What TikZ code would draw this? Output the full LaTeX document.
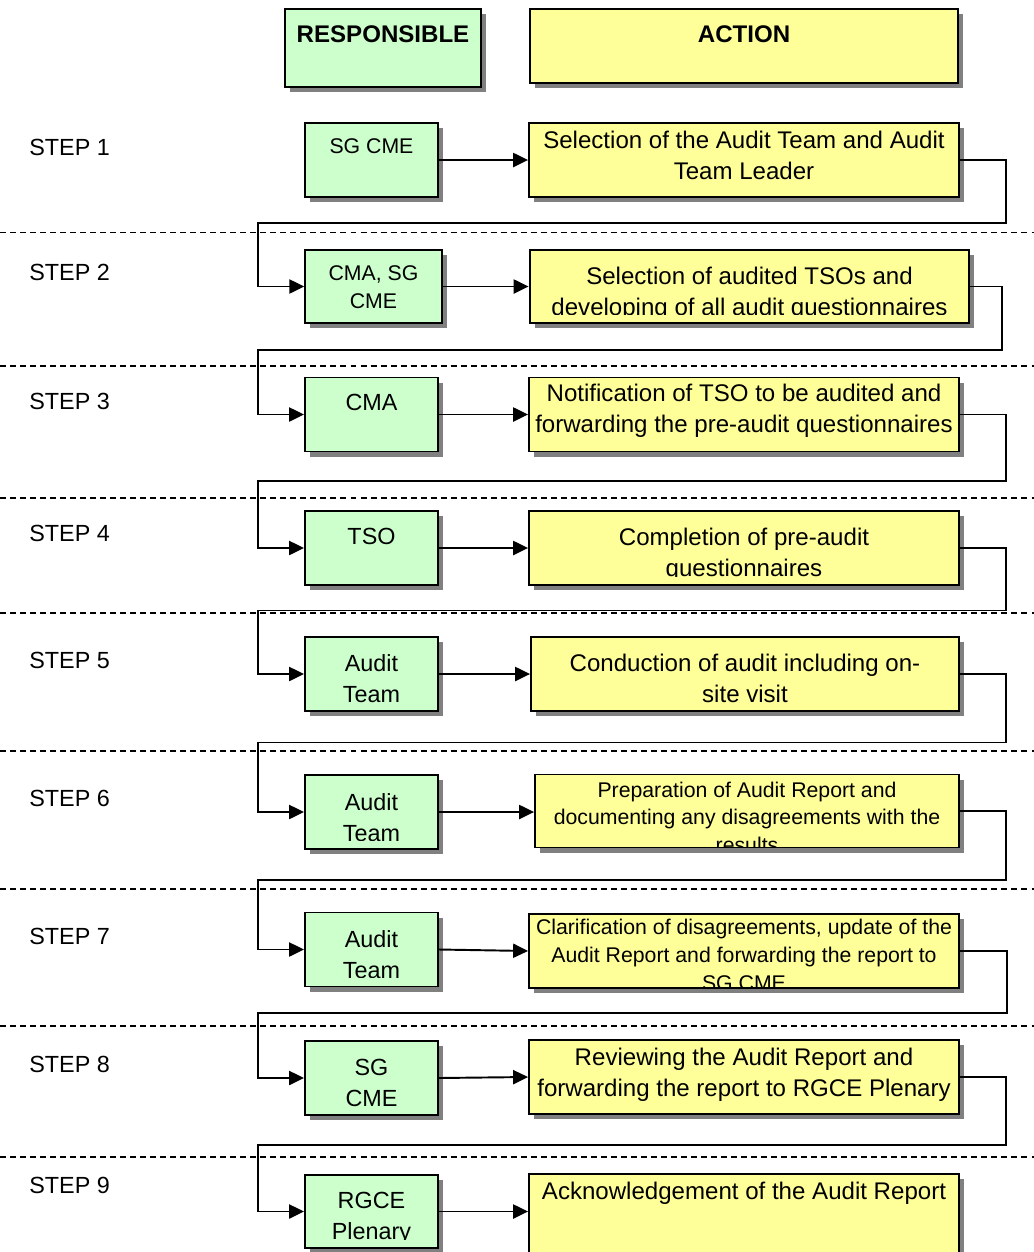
\documentclass[tikz,border=0pt]{standalone}
\usepackage{fontspec}
\setmainfont{Liberation Sans}
\usetikzlibrary{arrows.meta,shadows}
\definecolor{respgreen}{HTML}{CCFFCC}
\definecolor{actyellow}{HTML}{FFFF99}
\newcommand{\boxfont}{\fontsize{13.3}{17.6}\selectfont}
\newcommand{\actfont}{\fontsize{13.7}{17.6}\selectfont}
\newcommand{\tightfont}{\fontsize{12.1}{15.9}\selectfont}

\begin{document}
\begin{tikzpicture}[x=0.02cm, y=-0.02cm, font=\boxfont,
  box/.style={draw, line width=1.1pt, inner sep=0pt,
    drop shadow={shadow xshift=0.1cm, shadow yshift=-0.1cm, fill=black!50, opacity=1}},
  resp/.style={box, fill=respgreen, minimum width=2.66cm},
  act/.style={box, fill=actyellow, minimum width=8.6cm},
  boxtext/.style={anchor=north, align=center, inner sep=0pt, draw=none, fill=none,
    minimum width=0pt, minimum height=0pt},
  says/.style 2 args={path picture={
      \clip ([yshift=5pt]path picture bounding box.south west) rectangle (path picture bounding box.north east);
      \node[boxtext, font=\boxfont] at ([yshift=-#1]path picture bounding box.north) {#2};}},
  saysact/.style 2 args={path picture={
      \clip ([yshift=5pt]path picture bounding box.south west) rectangle (path picture bounding box.north east);
      \node[boxtext, font=\actfont] at ([yshift=-#1]path picture bounding box.north) {#2};}},
  sayssmall/.style 2 args={path picture={
      \clip ([yshift=0.8pt]path picture bounding box.south west) rectangle (path picture bounding box.north east);
      \node[boxtext, font=\tightfont] at ([yshift=-#1]path picture bounding box.north) {#2};}},
  link/.style={line width=1.1pt, -{Triangle[length=8.5pt, width=8pt]}},
  divider/.style={line width=0.6pt, dash pattern=on 3.4pt off 2.3pt},
  steplabel/.style={anchor=west, inner sep=0pt}]
  \useasboundingbox (0,0) rectangle (1034,1252);

  \draw[divider] (0,232.5) -- (1034,232.5);   %Step separators
  \draw[divider] (0,366) -- (1034,366);
  \draw[divider] (0,498) -- (1034,498);
  \draw[divider] (0,613) -- (1034,613);
  \draw[divider] (0,751) -- (1034,751);
  \draw[divider] (0,889) -- (1034,889);
  \draw[divider] (0,1026) -- (1034,1026);
  \draw[divider] (0,1157) -- (1034,1157);

  \node[resp, minimum width=3.92cm, minimum height=1.56cm, saysact={8.7pt}{\textbf{RESPONSIBLE}}] (headresp) at (383,48) {}; %Column heads
  \node[act, minimum width=8.56cm, minimum height=1.48cm, saysact={8.7pt}{\textbf{ACTION}}] (headact) at (744,46) {};

  \node[steplabel] (s1) at (29,147) {STEP 1};
  \node[resp, minimum height=1.48cm, sayssmall={8.6pt}{SG CME}] (r1) at (371.5,160) {};
  \node[act, minimum height=1.48cm, saysact={4pt}{Selection of the Audit Team and Audit\\Team Leader}] (a1) at (744,160) {};

  \node[steplabel] (s2) at (29,272) {STEP 2};
  \node[resp, minimum width=2.73cm, minimum height=1.46cm, sayssmall={8.5pt}{CMA, SG\\CME}] (r2) at (373.5,286.5) {};
  \node[act, minimum width=8.8cm, minimum height=1.46cm, saysact={9.2pt}{Selection of audited TSOs and\\developing of all audit questionnaires}] (a2) at (749.5,286.5) {};

  \node[steplabel] (s3) at (29,401) {STEP 3};
  \node[resp, minimum height=1.48cm, says={9.2pt}{CMA}] (r3) at (371.5,414.5) {};
  \node[act, minimum height=1.48cm, saysact={3pt}{Notification of TSO to be audited and\\forwarding the pre-audit questionnaires}] (a3) at (744,414.5) {};

  \node[steplabel] (s4) at (29,533) {STEP 4};
  \node[resp, minimum height=1.48cm, says={9.2pt}{TSO}] (r4) at (371.5,548) {};
  \node[act, minimum height=1.48cm, saysact={9.2pt}{Completion of pre-audit\\questionnaires}] (a4) at (744,548) {};

  \node[steplabel] (s5) at (29,660) {STEP 5};
  \node[resp, minimum height=1.48cm, says={9.2pt}{Audit\\Team}] (r5) at (371.5,674) {};
  \node[act, minimum width=8.56cm, minimum height=1.48cm, saysact={9.2pt}{Conduction of audit including on-\\site visit}] (a5) at (745,674) {};

  \node[steplabel] (s6) at (29,798) {STEP 6};
  \node[resp, minimum height=1.48cm, says={9.8pt}{Audit\\Team}] (r6) at (371.5,812) {};
  \node[act, minimum width=8.48cm, minimum height=1.46cm, sayssmall={3.5pt}{Preparation of Audit Report and\\documenting any disagreements with the\\results}] (a6) at (747,811) {};

  \node[steplabel] (s7) at (29,936) {STEP 7};
  \node[resp, minimum height=1.48cm, says={9.8pt}{Audit\\Team}] (r7) at (371.5,949.5) {};
  \node[act, minimum height=1.48cm, sayssmall={2.3pt}{Clarification of disagreements, update of the\\Audit Report and forwarding the report to\\SG CME}] (a7) at (744,951) {};

  \node[steplabel] (s8) at (29,1064) {STEP 8};
  \node[resp, minimum height=1.48cm, says={9.8pt}{SG\\CME}] (r8) at (371.5,1078) {};
  \node[act, minimum height=1.48cm, saysact={4.1pt}{Reviewing the Audit Report and\\forwarding the report to RGCE Plenary}] (a8) at (744,1077) {};

  \node[steplabel] (s9) at (29,1185) {STEP 9};
  \node[resp, minimum height=1.46cm, says={9.2pt}{RGCE\\Plenary}] (r9) at (371.5,1211.5) {};
  \node[act, minimum height=1.64cm, saysact={4.1pt}{Acknowledgement of the Audit Report}] (a9) at (744,1215) {};

  \draw[link] (r1.east) -- (a1.west |- r1.east);  %Responsible to action
  \draw[link] (r2.east) -- (a2.west);
  \draw[link] (r3.east) -- (a3.west);
  \draw[link] (r4.east) -- (a4.west);
  \draw[link] (r5.east) -- (a5.west);
  \draw[link] (r6.east) -- (a6.west |- r6.east);
  \draw[link] (r7.east) -- (a7.west);
  \draw[link] (r8.east) -- (a8.west);
  \draw[link] (r9.east) -- (a9.west |- r9.east);

  \draw[link] (a1.east) -| (1006,223) -- (258,223) |- (r2.west);  %On to the next step
  \draw[link] (a2.east) -| (1002,350) -- (258,350) |- (r3.west);
  \draw[link] (a3.east) -| (1006,481) -- (258,481) |- (r4.west);
  \draw[link] (a4.east) -| (1006,610.5) -- (258,610.5) |- (r5.west);
  \draw[link] (a5.east) -| (1006,742.5) -- (258,742.5) |- (r6.west);
  \draw[link] (a6.east) -| (1006,880) -- (258,880) |- (r7.west);
  \draw[link] (a7.east) -| (1007,1013) -- (258,1013) |- (r8.west);
  \draw[link] (a8.east) -| (1006,1145) -- (258,1145) |- (r9.west);
\end{tikzpicture}
\end{document}
